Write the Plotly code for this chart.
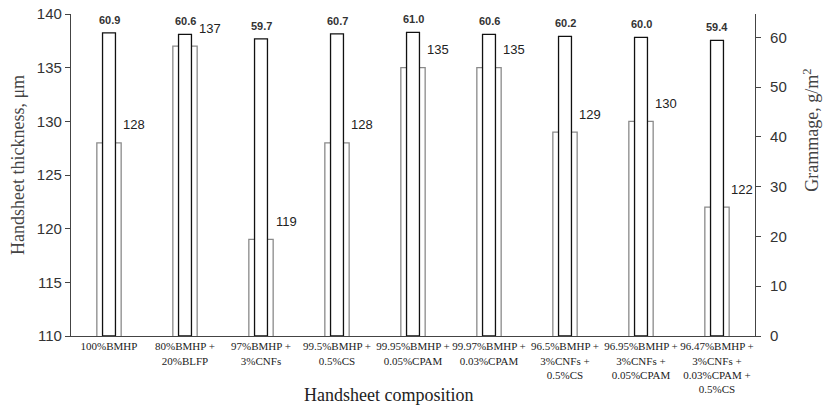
import plotly.graph_objects as go

categories = [
    "100%BMHP",
    "80%BMHP +<br>20%BLFP",
    "97%BMHP +<br>3%CNFs",
    "99.5%BMHP +<br>0.5%CS",
    "99.95%BMHP +<br>0.05%CPAM",
    "99.97%BMHP +<br>0.03%CPAM",
    "96.5%BMHP +<br>3%CNFs +<br>0.5%CS",
    "96.95%BMHP +<br>3%CNFs +<br>0.05%CPAM",
    "96.47%BMHP +<br>3%CNFs +<br>0.03%CPAM +<br>0.5%CS",
]
thickness = [128, 137, 119, 128, 135, 135, 129, 130, 122]
grammage = [60.9, 60.6, 59.7, 60.7, 61.0, 60.6, 60.2, 60.0, 59.4]

left_ticks = [110, 115, 120, 125, 130, 135, 140]
right_ticks = [0, 10, 20, 30, 40, 50, 60]

SERIF = "Liberation Serif, Times New Roman, serif"
SANS = "Liberation Sans, Arial, sans-serif"

fig = go.Figure()
fig.add_trace(go.Bar(
    x=categories, y=thickness, width=0.32, yaxis="y",
    marker=dict(color="white", line=dict(color="#8a8a8a", width=1.3)),
    showlegend=False, hoverinfo="y",
))
fig.add_trace(go.Bar(
    x=categories, y=grammage, width=0.17, yaxis="y2",
    marker=dict(color="white", line=dict(color="#111111", width=1.3)),
    showlegend=False, hoverinfo="y",
))

annotations = []
for c, v in zip(categories, thickness):
    annotations.append(dict(x=c, y=v, xref="x", yref="y", text=str(v),
                            showarrow=False, xshift=25, yshift=18,
                            font=dict(family=SANS, size=13, color="#222")))
for c, v in zip(categories, grammage):
    annotations.append(dict(x=c, y=v, xref="x", yref="y2", text=f"<b>{v:.1f}</b>",
                            showarrow=False, yshift=13,
                            font=dict(family=SANS, size=11, color="#333")))

annotations += [
    dict(text="Handsheet thickness, μm", xref="paper", yref="paper",
         x=-0.0775, y=0.531, textangle=-90, showarrow=False,
         xanchor="center", yanchor="middle",
         font=dict(family=SERIF, size=18, color="#444")),
    dict(text="Grammage, g/m<sup>2</sup>", xref="paper", yref="paper",
         x=1.083, y=0.64, textangle=-90, showarrow=False,
         xanchor="center", yanchor="middle",
         font=dict(family=SERIF, size=18, color="#444")),
    dict(text="Handsheet composition", xref="paper", yref="paper",
         x=0.4635, y=-0.183, showarrow=False,
         xanchor="center", yanchor="middle",
         font=dict(family=SERIF, size=18, color="#222")),
]

fig.update_layout(
    width=823, height=406,
    margin=dict(l=71, r=68, t=14, b=70, autoexpand=False),
    paper_bgcolor="white", plot_bgcolor="white",
    barmode="overlay",
    xaxis=dict(showline=True, linecolor="#444", linewidth=1.2, automargin=False,
               ticks="", showgrid=False, tickangle=0,
               tickfont=dict(family=SERIF, size=11, color="#222")),
    yaxis=dict(range=[110, 140], tickvals=left_ticks, showline=True, automargin=False,
               linecolor="#444", linewidth=1.2, ticks="outside", ticklen=5,
               tickcolor="#444", showgrid=False, zeroline=False,
               tickfont=dict(family=SANS, size=15, color="#333")),
    yaxis2=dict(range=[0, 64.7], tickvals=right_ticks, overlaying="y",
                side="right", showline=True, linecolor="#444", linewidth=1.2,
                ticks="outside", ticklen=5, tickcolor="#444", showgrid=False,
                zeroline=False, ticklabelstandoff=6, automargin=False,
                tickfont=dict(family=SANS, size=15, color="#333")),
    annotations=annotations,
)

fig.write_html("out.html", config={"displayModeBar": False},
               post_script="document.body.style.margin='0';document.body.style.overflow='hidden';")
